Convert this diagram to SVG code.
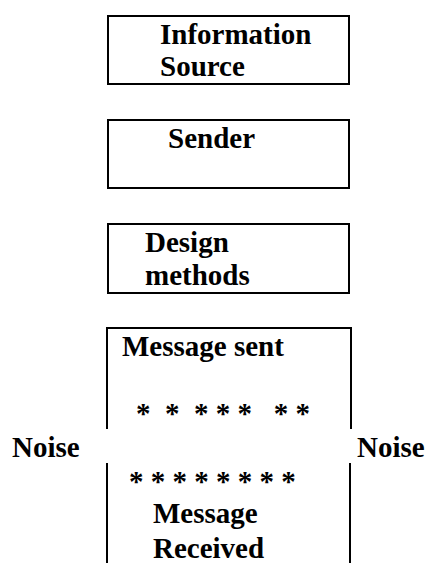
<svg xmlns="http://www.w3.org/2000/svg" width="426" height="563" viewBox="0 0 426 563">
<style>
.box{fill:none;stroke:#000;stroke-width:2}
.ln{stroke:#000;stroke-width:2;fill:none}
.t{font-family:"Liberation Serif","Times New Roman",serif;font-weight:bold;font-size:29px;fill:#000}
.s{white-space:pre}
</style>
<rect width="426" height="563" fill="#fff"/>
<g id="information-source">
<rect class="box" x="108" y="16" width="241" height="68"/>
<text class="t" x="160" y="44">Information</text>
<text class="t" x="160" y="76">Source</text>
</g>
<g id="sender">
<rect class="box" x="108" y="120" width="241" height="68"/>
<text class="t" x="168" y="148">Sender</text>
</g>
<g id="design-methods">
<rect class="box" x="108" y="224" width="241" height="69"/>
<text class="t" x="145" y="252">Design</text>
<text class="t" x="145" y="285">methods</text>
</g>
<g id="message-sent">
<path class="ln" d="M107,429 V328 H351 V429"/>
<text class="t" x="122" y="356">Message sent</text>
<text class="t s" x="136" y="423" xml:space="preserve">*  *  * * *   * *</text>
</g>
<g id="message-received">
<path class="ln" d="M107,463 V563 M350,463 V563"/>
<text class="t s" x="129" y="491" xml:space="preserve">* * * * * * * *</text>
<text class="t" x="153" y="523">Message</text>
<text class="t" x="153" y="558">Received</text>
</g>
<g id="noise-left">
<text class="t" x="12" y="457">Noise</text>
</g>
<g id="noise-right">
<text class="t" x="357" y="457">Noise</text>
</g>
<g id="connectors"></g>
</svg>
